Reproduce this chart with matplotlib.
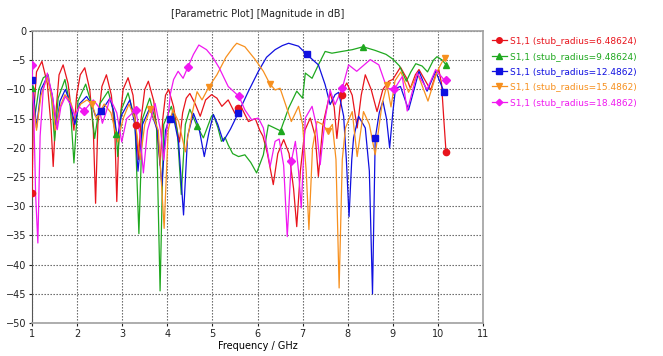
import matplotlib
matplotlib.use("Agg")
import matplotlib.pyplot as plt

# S1,1 curves: (frequency GHz, magnitude dB)
red_f = [1.00, 1.03, 1.10, 1.22, 1.34, 1.42, 1.47, 1.53, 1.60, 1.69, 1.80, 1.88, 1.93, 1.99, 2.07, 2.17,
         2.28, 2.36, 2.41, 2.46, 2.55, 2.65, 2.76, 2.84, 2.88, 2.93, 3.02, 3.13, 3.24, 3.30, 3.36, 3.42,
         3.50, 3.58, 3.70, 3.78, 3.84, 3.90, 3.96, 4.03, 4.14, 4.22, 4.27, 4.34, 4.42, 4.50, 4.62, 4.73,
         4.85, 4.98, 5.10, 5.21, 5.35, 5.50, 5.65, 5.80, 5.95, 6.05, 6.12, 6.22, 6.35, 6.45, 6.58, 6.70,
         6.80, 6.87, 6.95, 7.05, 7.17, 7.28, 7.35, 7.45, 7.61, 7.70, 7.76, 7.83, 7.90, 7.98, 8.10, 8.21,
         8.30, 8.39, 8.52, 8.65, 8.78, 8.91, 9.00, 9.17, 9.30, 9.39, 9.50, 9.58, 9.72, 9.84, 9.95, 10.02,
         10.08, 10.13, 10.18]
red_db = [-27.7, -15, -7, -5.2, -9, -16, -23.2, -14, -7.5, -5.8, -9, -14, -17, -11, -7.5, -6.3,
          -10, -17, -29.5, -16, -9.5, -7.5, -11, -18, -29.2, -17, -10, -8.0, -11, -16, -22, -15,
          -10, -8.6, -12, -18, -23, -15, -11, -10.0, -13, -17, -19, -14, -11.5, -10.7, -12.5, -14.6,
          -11.8, -10.9, -11.5, -12.9, -11.8, -14.1, -13.2, -15.5, -15, -17, -18, -21, -26.3, -21, -18.6, -21,
          -27, -33.5, -24, -17, -14.9, -18, -24.9, -16, -10.6, -13, -18.4, -13, -10, -8.9, -11, -16.6,
          -11, -7.5, -10, -13.8, -10, -8.6, -8.3, -6.2, -8, -9.8, -7.5, -6.6, -8.5, -10.1, -7.5, -6.6,
          -9, -15, -20.7]
red_mf = [1.00, 3.30, 5.57, 7.88, 10.18]
red_mdb = [-27.7, -16.1, -13.2, -10.9, -20.7]

green_f = [1.00, 1.04, 1.07, 1.15, 1.25, 1.36, 1.44, 1.50, 1.58, 1.73, 1.85, 1.93, 2.02, 2.19, 2.30, 2.39,
           2.50, 2.69, 2.80, 2.87, 2.90, 2.98, 3.13, 3.28, 3.37, 3.45, 3.61, 3.76, 3.84, 3.92, 4.09, 4.22,
           4.31, 4.40, 4.50, 4.66, 4.80, 4.98, 5.02, 5.12, 5.20, 5.28, 5.35, 5.45, 5.58, 5.72, 5.85, 5.98,
           6.13, 6.24, 6.35, 6.51, 6.69, 6.87, 7.00, 7.06, 7.21, 7.35, 7.50, 7.65, 7.87, 8.10, 8.34, 8.60,
           8.85, 9.00, 9.15, 9.30, 9.40, 9.51, 9.65, 9.77, 9.90, 9.98, 10.10, 10.18]
green_db = [-9.7, -12, -14.3, -10, -8, -7.5, -12, -18.8, -11.5, -8.3, -13, -22.6, -12, -9.1, -12, -18.4,
            -12.5, -10.3, -13.5, -17.7, -21.5, -13.5, -10.6, -15, -34.7, -15, -11.5, -16, -44.5, -16, -12.9, -17,
            -28, -16, -13.4, -16.3, -18.3, -14.6, -14.3, -16.5, -18.9, -18.2, -19.5, -21, -21.5, -21.2, -22.5, -24.3,
            -21.2, -16.1, -16.5, -17.1, -13.2, -10.3, -11.5, -7.2, -8.1, -5.8, -3.5, -3.8, -3.5, -3.2, -2.7, -3.3,
            -4.0, -4.8, -6, -8.6, -7, -5.6, -6, -7, -5, -4.4, -5, -5.8]
green_mf = [1.00, 2.87, 4.66, 6.51, 8.34, 10.18]
green_mdb = [-9.7, -17.7, -16.3, -17.1, -2.7, -5.8]

blue_f = [1.00, 1.05, 1.10, 1.20, 1.34, 1.45, 1.54, 1.62, 1.74, 1.85, 1.95, 2.05, 2.21, 2.32, 2.41, 2.54,
          2.73, 2.82, 2.89, 2.98, 3.17, 3.28, 3.35, 3.45, 3.61, 3.78, 3.88, 3.96, 4.05, 4.12, 4.25, 4.36,
          4.45, 4.58, 4.70, 4.82, 4.92, 5.02, 5.12, 5.24, 5.40, 5.57, 5.80, 6.02, 6.20, 6.39, 6.55, 6.69,
          6.91, 7.09, 7.35, 7.50, 7.61, 7.72, 7.80, 7.91, 7.97, 8.03, 8.09, 8.13, 8.24, 8.39, 8.48, 8.55,
          8.61, 8.70, 8.78, 8.86, 8.93, 9.00, 9.06, 9.17, 9.35, 9.58, 9.76, 9.95, 10.14]
blue_db = [-8.4, -12, -16.6, -10, -7.8, -11, -16.6, -12, -10, -12.5, -16, -12.5, -11.2, -12.5, -14.6, -13.7,
           -11.5, -14, -18.7, -14.5, -11.8, -16, -24, -16, -13.2, -17, -26.5, -17, -15, -14.1, -19, -31.5,
           -18, -14.1, -16.5, -21.5, -17.5, -14.3, -16, -18.9, -16.8, -14.1, -10.3, -6.9, -4.5, -3.2, -2.5, -2.1,
           -2.6, -4.0, -5.8, -9.2, -12.6, -10.9, -10.5, -14.6, -22, -31.8, -22, -18.3, -14.6, -16.6, -24, -45,
           -18.4, -14, -12, -15, -20, -14, -9.8, -9.5, -13.5, -6.9, -10.3, -6.9, -10.5]
blue_mf = [1.00, 2.54, 4.05, 5.57, 7.09, 8.61, 10.14]
blue_mdb = [-8.4, -13.7, -15.0, -14.1, -4.0, -18.4, -10.5]

orange_f = [1.00, 1.05, 1.10, 1.20, 1.34, 1.44, 1.52, 1.62, 1.73, 1.85, 1.95, 2.08, 2.22, 2.33, 2.43, 2.60,
            2.75, 2.90, 3.02, 3.15, 3.28, 3.40, 3.50, 3.62, 3.80, 3.93, 4.02, 4.12, 4.25, 4.40, 4.48, 4.55,
            4.66, 4.77, 4.92, 5.10, 5.30, 5.47, 5.54, 5.72, 5.95, 6.13, 6.27, 6.39, 6.50, 6.61, 6.75, 6.91,
            7.00, 7.08, 7.14, 7.22, 7.32, 7.44, 7.56, 7.66, 7.74, 7.81, 7.88, 7.95, 8.10, 8.21, 8.35, 8.48,
            8.61, 8.76, 8.87, 8.96, 9.05, 9.18, 9.35, 9.55, 9.78, 9.98, 10.08, 10.15]
orange_db = [-10, -13.5, -17, -11, -7.9, -11.5, -17, -13, -10.9, -12, -14.5, -12.5, -11.8, -12.5, -15, -12.5,
             -14, -19, -15, -12.5, -15, -22, -16, -13.3, -17, -33.8, -17, -13.5, -15.5, -20.7, -17, -14.1,
             -10.4, -11.8, -9.6, -7.5, -4.5, -2.7, -2.1, -2.7, -4.9, -6.9, -9.0, -10.1, -9.8, -12.3, -15.5, -12.9,
             -16, -24, -34, -20, -15.5, -16, -17.1, -16, -22, -44, -22, -16.6, -13.8, -21.5, -13.8, -16,
             -21.2, -12.6, -9.2, -13, -8.5, -7, -10.5, -7.3, -12, -7, -5.5, -4.6]
orange_mf = [2.33, 3.62, 4.92, 6.27, 7.56, 8.87, 10.15]
orange_mdb = [-12.5, -13.3, -9.6, -9.0, -17.1, -9.2, -4.6]

magenta_f = [1.00, 1.04, 1.08, 1.13, 1.18, 1.25, 1.34, 1.45, 1.56, 1.64, 1.74, 1.85, 1.95, 2.05, 2.15, 2.36,
             2.48, 2.56, 2.64, 2.73, 2.88, 2.99, 3.10, 3.30, 3.40, 3.47, 3.56, 3.73, 3.85, 3.92, 4.00, 4.07,
             4.14, 4.24, 4.35, 4.46, 4.58, 4.70, 4.87, 5.00, 5.15, 5.35, 5.59, 5.72, 5.87, 6.02, 6.13, 6.28,
             6.39, 6.48, 6.58, 6.66, 6.75, 6.84, 6.91, 6.97, 7.06, 7.21, 7.30, 7.39, 7.50, 7.61, 7.72, 7.88,
             8.02, 8.20, 8.32, 8.50, 8.69, 8.87, 9.03, 9.21, 9.32, 9.54, 9.76, 9.95, 10.13, 10.18]
magenta_db = [-5.9, -14, -28, -36.3, -18, -10, -7.2, -11, -16.9, -13, -11.2, -12.5, -14.5, -13, -13.7, -11.8,
              -13, -15.8, -14, -11.5, -14, -19, -15, -13.5, -18, -24.3, -17, -12.4, -17, -22.1, -16, -10.7,
              -8.3, -6.9, -8.1, -6.1, -4, -2.4, -3.2, -4.4, -6.3, -9.5, -11.2, -13.5, -15.2, -14.9, -16.6, -23.2,
              -18.9, -18.5, -23, -35.2, -22.3, -18.9, -24, -30.3, -14.9, -12.9, -16, -22.9, -15, -10.1, -12.6, -9.8,
              -5.8, -6.9, -6.1, -4.9, -5.8, -9.8, -10.0, -7.8, -13.7, -7.2, -10, -6.6, -8.3, -8.4]
magenta_mf = [1.00, 2.15, 3.30, 4.46, 5.59, 6.74, 7.88, 9.03, 10.18]
magenta_mdb = [-5.9, -13.7, -13.5, -6.1, -11.2, -22.3, -9.8, -10.0, -8.4]

labels = ["S1,1 (stub_radius=6.48624)", "S1,1 (stub_radius=9.48624)", "S1,1 (stub_radius=12.4862)",
          "S1,1 (stub_radius=15.4862)", "S1,1 (stub_radius=18.4862)"]
colors = ["#e8141c", "#1fa81f", "#1010e0", "#f7901e", "#f018f0"]
markers = ["o", "^", "s", "v", "D"]
msizes = [4.5, 5, 4.5, 5, 3.8]

series = [(red_f, red_db, red_mf, red_mdb),
          (green_f, green_db, green_mf, green_mdb),
          (blue_f, blue_db, blue_mf, blue_mdb),
          (orange_f, orange_db, orange_mf, orange_mdb),
          (magenta_f, magenta_db, magenta_mf, magenta_mdb)]

plt.rcParams['font.family'] = ['DejaVu Sans']
fig = plt.figure(figsize=(6.63, 3.56), dpi=100)
ax = fig.add_axes([32 / 663, 1 - 323 / 356, 451 / 663, 292 / 356])

handles = []
for (f, db, mf, mdb), c, m, ms, lab in zip(series, colors, markers, msizes, labels):
    ax.plot(f, db, color=c, lw=0.9, zorder=3)
    ax.plot(mf, mdb, ls="none", marker=m, ms=ms, color=c, zorder=4)
    h, = ax.plot([], [], color=c, lw=0.9, marker=m, ms=ms - 0.5, label=lab)
    handles.append(h)

ax.set_xlim(1, 11)
ax.set_ylim(-50, 0)
ax.set_xticks(range(1, 12))
ax.set_yticks(range(-50, 1, 5))
ax.grid(True, color="#555555", ls=(0, (1.2, 1.5)), lw=0.8)
ax.tick_params(labelsize=7, length=2, pad=2, colors="#222222")
for s in ["top", "right", "bottom"]:
    ax.spines[s].set_color("#a0a0a0")
    ax.spines[s].set_linewidth(1.2)
ax.spines["left"].set_color("#555555")
ax.set_xlabel("Frequency / GHz", fontsize=7, labelpad=2)

fig.text(258 / 663, 1 - 14 / 356, "[Parametric Plot] [Magnitude in dB]", fontsize=7,
         ha="center", va="center", color="#222222")

leg = fig.legend(handles=handles, loc="upper left", bbox_to_anchor=(488 / 663, 1 - 33 / 356),
                 frameon=False, fontsize=6.5, handlelength=1.7, handletextpad=0.35,
                 labelspacing=0.7, borderaxespad=0)
for t, c in zip(leg.get_texts(), colors):
    t.set_color(c)

fig.savefig("out.png", dpi=100)
